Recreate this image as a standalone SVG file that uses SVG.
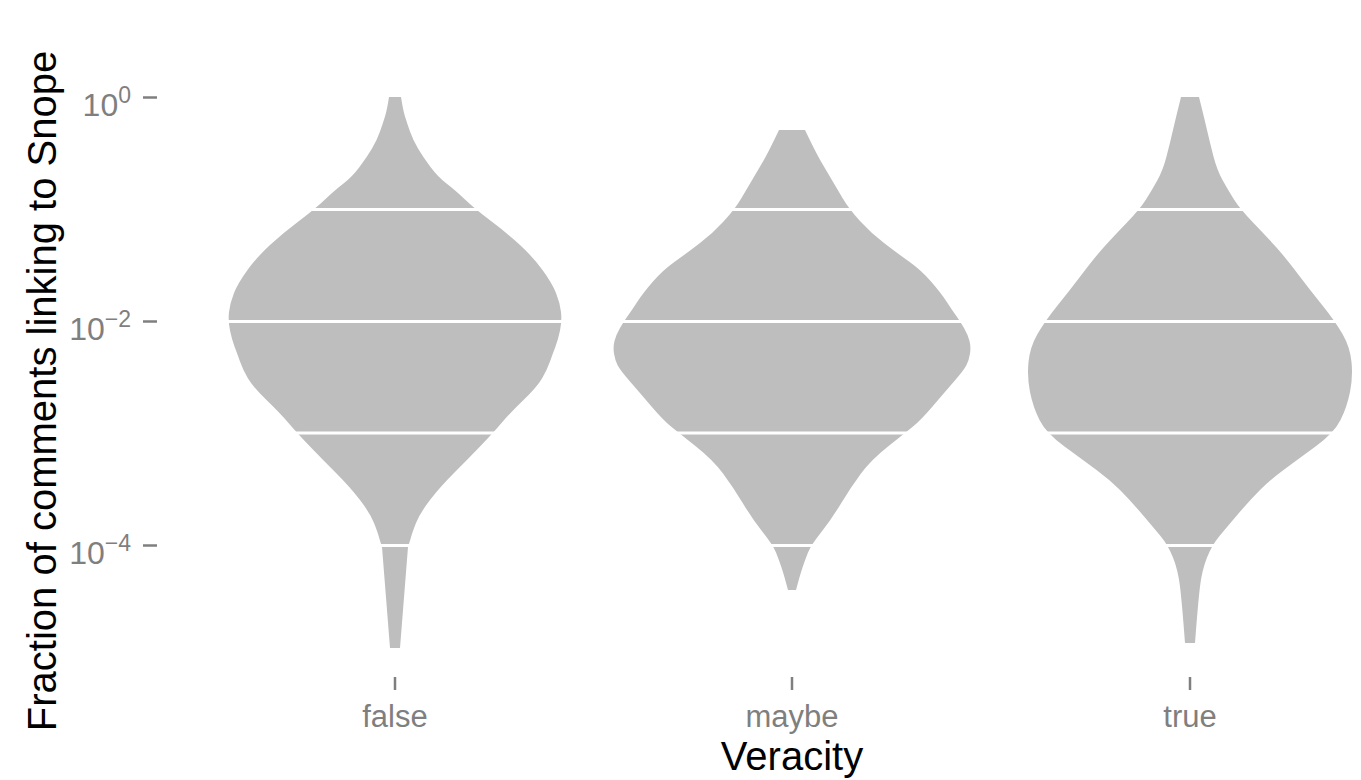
<svg xmlns="http://www.w3.org/2000/svg" width="1361" height="780" viewBox="0 0 1361 780">
<style>
.violin{fill:#bebebe;stroke:none}
.sep{stroke:#ffffff;stroke-width:3}
.tick{stroke:#7f7f7f;stroke-width:2.5}
.ticklab{font-family:"Liberation Sans",Arial,sans-serif;fill:#7f7f7f}
.title{font-family:"Liberation Sans",Arial,sans-serif;fill:#000000;font-size:40px}
</style>
<rect width="1361" height="780" fill="#ffffff"/>
<g id="violin-false" transform="translate(395,0)">
<path class="violin" d="M -6,97 L 6,97 Q 8,110 10,116.5 Q 12,123 15,131.5 Q 18,140 23,148.5 Q 28,157 35.5,167 Q 43,177 51.5,183.5 Q 60,190 70,199.5 Q 80,209 96,221 Q 112,233 125,245 Q 138,257 147.5,270 Q 157,283 161,293 Q 165,303 166,312 Q 167,321 165,330.5 Q 163,340 160.5,346.5 Q 158,353 155,361.5 Q 152,370 147,378.5 Q 142,387 128.5,400 Q 115,413 106.5,423 Q 98,433 85,446.5 Q 72,460 58.5,473.5 Q 45,487 35,500 Q 25,513 21,523 Q 17,533 15.5,539 L 13,547 L 5,648 L -5,648 L -13,547 L -15.5,539 Q -17,533 -21,523 Q -25,513 -35,500 Q -45,487 -58.5,473.5 Q -72,460 -85,446.5 Q -98,433 -106.5,423 Q -115,413 -128.5,400 Q -142,387 -147,378.5 Q -152,370 -155,361.5 Q -158,353 -160.5,346.5 Q -163,340 -165,330.5 Q -167,321 -166,312 Q -165,303 -161,293 Q -157,283 -147.5,270 Q -138,257 -125,245 Q -112,233 -96,221 Q -80,209 -70,199.5 Q -60,190 -51.5,183.5 Q -43,177 -35.5,167 Q -28,157 -23,148.5 Q -18,140 -15,131.5 Q -12,123 -10,116.5 Q -8,110 -6,97 Z"/>
<line class="sep" x1="-86" y1="209.5" x2="86" y2="209.5"/>
<line class="sep" x1="-170" y1="321.5" x2="170" y2="321.5"/>
<line class="sep" x1="-102" y1="433" x2="102" y2="433"/>
<line class="sep" x1="-18" y1="545.5" x2="18" y2="545.5"/>
</g>
<g id="violin-maybe" transform="translate(792,0)">
<path class="violin" d="M -13,130 L 13,130 Q 24,153 29,161.5 Q 34,170 39,178.5 Q 44,187 50.5,198 Q 57,209 68,221 Q 79,233 92,243 Q 105,253 117,261.5 Q 129,270 139,281.5 Q 149,293 154.5,301.5 Q 160,310 164,315.5 Q 168,321 172,328 Q 176,335 177.5,341 Q 179,347 178,353.5 Q 177,360 174.5,365 Q 172,370 162,381.5 Q 152,393 140.5,406.5 Q 129,420 121,426.5 Q 113,433 96,446.5 Q 79,460 69,473.5 Q 59,487 49,503.5 Q 39,520 29,532.5 Q 19,545 16,552.5 Q 13,560 10.5,567.5 Q 8,575 4,590 L -4,590 Q -8,575 -10.5,567.5 Q -13,560 -16,552.5 Q -19,545 -29,532.5 Q -39,520 -49,503.5 Q -59,487 -69,473.5 Q -79,460 -96,446.5 Q -113,433 -121,426.5 Q -129,420 -140.5,406.5 Q -152,393 -162,381.5 Q -172,370 -174.5,365 Q -177,360 -178,353.5 Q -179,347 -177.5,341 Q -176,335 -172,328 Q -168,321 -164,315.5 Q -160,310 -154.5,301.5 Q -149,293 -139,281.5 Q -129,270 -117,261.5 Q -105,253 -92,243 Q -79,233 -68,221 Q -57,209 -50.5,198 Q -44,187 -39,178.5 Q -34,170 -29,161.5 Q -24,153 -13,130 Z"/>
<line class="sep" x1="-64" y1="209.5" x2="64" y2="209.5"/>
<line class="sep" x1="-174" y1="321.5" x2="174" y2="321.5"/>
<line class="sep" x1="-120" y1="433" x2="120" y2="433"/>
<line class="sep" x1="-24" y1="545.5" x2="24" y2="545.5"/>
</g>
<g id="violin-true" transform="translate(1190,0)">
<path class="violin" d="M -9,97 L 9,97 Q 14,117 17,130 Q 20,143 23.5,156.5 Q 27,170 32.5,180 Q 38,190 44,199.5 Q 50,209 63.5,223 Q 77,237 86,247 Q 95,257 107.5,273.5 Q 120,290 132.5,305.5 Q 145,321 152.5,334 Q 160,347 161.5,362 Q 163,377 160,392 Q 157,407 150.5,420 Q 144,433 125.5,446.5 Q 107,460 93.5,470 Q 80,480 70,490 Q 60,500 48.5,513.5 Q 37,527 29.5,536 Q 22,545 17,557.5 Q 12,570 10,586.5 Q 8,603 5,643 L -5,643 Q -8,603 -10,586.5 Q -12,570 -17,557.5 Q -22,545 -29.5,536 Q -37,527 -48.5,513.5 Q -60,500 -70,490 Q -80,480 -93.5,470 Q -107,460 -125.5,446.5 Q -144,433 -150.5,420 Q -157,407 -160,392 Q -163,377 -161.5,362 Q -160,347 -152.5,334 Q -145,321 -132.5,305.5 Q -120,290 -107.5,273.5 Q -95,257 -86,247 Q -77,237 -63.5,223 Q -50,209 -44,199.5 Q -38,190 -32.5,180 Q -27,170 -23.5,156.5 Q -20,143 -17,130 Q -14,117 -9,97 Z"/>
<line class="sep" x1="-58" y1="209.5" x2="58" y2="209.5"/>
<line class="sep" x1="-152" y1="321.5" x2="152" y2="321.5"/>
<line class="sep" x1="-148" y1="433" x2="148" y2="433"/>
<line class="sep" x1="-28" y1="545.5" x2="28" y2="545.5"/>
</g>
<g id="y-axis">
<line class="tick" x1="143" y1="97.5" x2="157" y2="97.5"/>
<line class="tick" x1="143" y1="321.5" x2="157" y2="321.5"/>
<line class="tick" x1="143" y1="545.5" x2="157" y2="545.5"/>
<text class="ticklab" x="131" y="116" text-anchor="end" font-size="32">10<tspan dy="-13" font-size="23">0</tspan></text>
<text class="ticklab" x="131" y="340" text-anchor="end" font-size="32">10<tspan dy="-13" font-size="23">−2</tspan></text>
<text class="ticklab" x="131" y="564" text-anchor="end" font-size="32">10<tspan dy="-13" font-size="23">−4</tspan></text>
<text class="title" transform="translate(56,391) rotate(-90)" text-anchor="middle">Fraction of comments linking to Snope</text>
</g>
<g id="x-axis">
<line class="tick" x1="395" y1="677" x2="395" y2="690"/>
<line class="tick" x1="792" y1="677" x2="792" y2="690"/>
<line class="tick" x1="1190" y1="677" x2="1190" y2="690"/>
<text class="ticklab" x="395" y="727" text-anchor="middle" font-size="31">false</text>
<text class="ticklab" x="792" y="727" text-anchor="middle" font-size="31">maybe</text>
<text class="ticklab" x="1190" y="727" text-anchor="middle" font-size="31">true</text>
<text class="title" x="792" y="770" text-anchor="middle">Veracity</text>
</g>
<g id="connectors"/>
</svg>
